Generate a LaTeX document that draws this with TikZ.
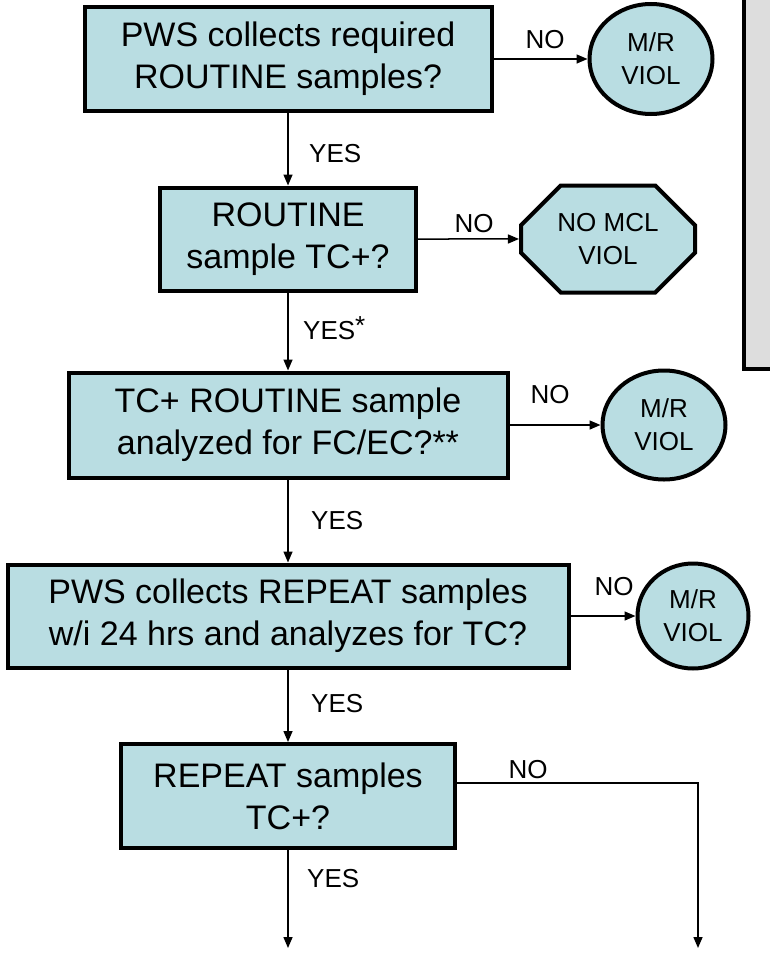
\documentclass[tikz,border=0pt]{standalone}
\usepackage{fontspec}
\setmainfont{Liberation Sans}
\usepackage{tikz}
\usetikzlibrary{shapes,arrows.meta,positioning}
\definecolor{boxblue}{RGB}{185,221,226}
\definecolor{panelgray}{RGB}{221,221,221}

\begin{document}
\begin{tikzpicture}[x=1pt, y=-1pt]
			\tikzstyle{Question}	= [rectangle, draw, line width=4pt, fill=boxblue, inner sep=0pt, align=center, font=\fontsize{34}{42}\selectfont]
			\tikzstyle{Viol}	= [ellipse, draw, line width=4pt, fill=boxblue, inner sep=0pt, align=center, font=\fontsize{26}{33}\selectfont]
			\tikzstyle{Stop}	= [chamfered rectangle, chamfered rectangle xsep=32pt, chamfered rectangle ysep=14pt, draw, line width=4pt, fill=boxblue, inner sep=0pt, align=center, font=\fontsize{26}{33}\selectfont]
			\tikzstyle{Answer}	= [inner sep=0pt, font=\fontsize{26}{28}\selectfont]
			\tikzstyle{Flow}	= [line width=1.5pt, -{Triangle[length=11pt, width=9pt]}]

			\useasboundingbox (0, 0) rectangle (769, 953);

			% grey panel at the right, cut off by the margin
			\draw [line width=4pt, fill=panelgray] (744, -10) rectangle (800, 369);

			\node (Q1) at (288, 59) [Question, minimum width=407pt, minimum height=104pt] {PWS collects required\\ROUTINE samples?};
			\node (MR1) at (651, 59) [Viol, minimum width=123pt, minimum height=110pt] {M/R\\VIOL};
			\node (Q2) at (288, 239) [Question, minimum width=256pt, minimum height=103pt] {ROUTINE\\sample TC+?};
			\node (NoMCL) at (608, 239) [Stop, minimum width=174pt, minimum height=107pt] {NO MCL\\VIOL};
			\node (Q3) at (288, 425) [Question, minimum width=439pt, minimum height=105pt] {TC+ ROUTINE sample\\analyzed for FC/EC?**};
			\node (MR3) at (664, 425) [Viol, minimum width=123pt, minimum height=109pt] {M/R\\VIOL};
			\node (Q4) at (288, 616) [Question, minimum width=561pt, minimum height=103pt] {PWS collects REPEAT samples\\w/i 24 hrs and analyzes for TC?};
			\node (MR4) at (693, 616) [Viol, minimum width=111pt, minimum height=105pt] {M/R\\VIOL};
			\node (Q5) at (288, 796) [Question, minimum width=334pt, minimum height=104pt] {REPEAT samples\\TC+?};

			\coordinate (NoBend) at (698, 783);
			\coordinate (NoEnd) at (698, 948);
			\coordinate (YesEnd) at (288, 948);

			\draw [Flow] (Q1) to (MR1);
			\draw [Flow] (Q1) to (Q2);
			\draw [Flow] (Q2) to (NoMCL);
			\draw [Flow] (Q2) to (Q3);
			\draw [Flow] (Q3) to (MR3);
			\draw [Flow] (Q3) to (Q4);
			\draw [Flow] (Q4) to (MR4);
			\draw [Flow] (Q4) to (Q5);
			\draw [Flow] (Q5) to (YesEnd);
			\draw [Flow] (Q5.east |- NoBend) -- (NoBend) -- (NoEnd);

			\node (No1) at (545, 48) [Answer, anchor=base] {NO};
			\node (No2) at (474, 232) [Answer, anchor=base] {NO};
			\node (No3) at (550, 403) [Answer, anchor=base] {NO};
			\node (No4) at (614, 595) [Answer, anchor=base] {NO};
			\node (No5) at (528, 778) [Answer, anchor=base] {NO};

			\node (Yes1) at (309, 162) [Answer, anchor=base west] {YES};
			\node (Yes2) at (303, 339) [Answer, anchor=base west] {YES\raisebox{5pt}{*}};
			\node (Yes3) at (311, 529) [Answer, anchor=base west] {YES};
			\node (Yes4) at (311, 712) [Answer, anchor=base west] {YES};
			\node (Yes5) at (307, 887) [Answer, anchor=base west] {YES};
\end{tikzpicture}
\end{document}
